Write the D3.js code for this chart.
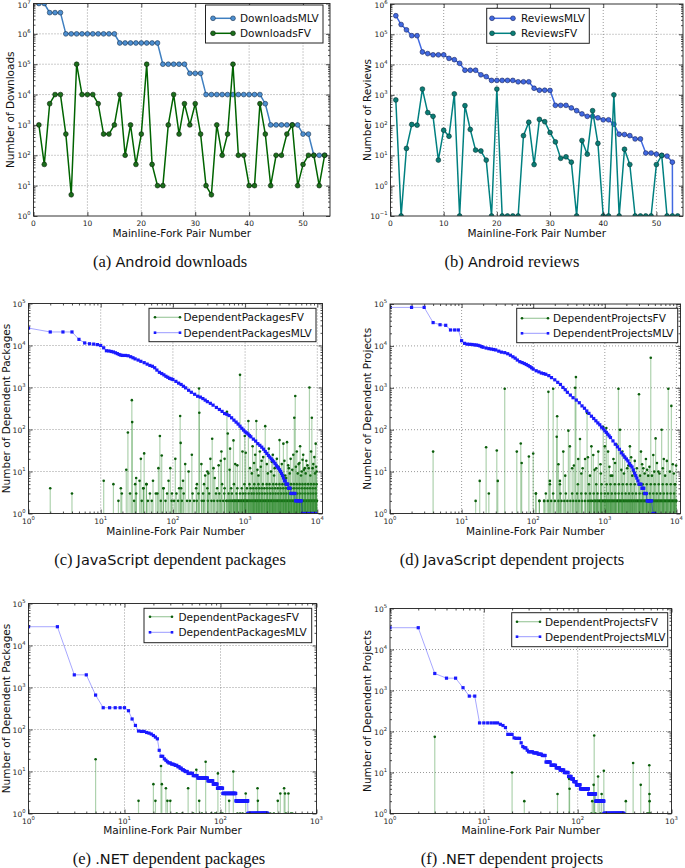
<!DOCTYPE html>
<html><head><meta charset="utf-8">
<script src="https://cdn.jsdelivr.net/npm/d3@7"></script>
<style>body{margin:0;background:#fff}svg{display:block}text{font-family:"DejaVu Sans",sans-serif}</style>
</head><body><script>
// ---------------- DATA ----------------
// (a) Android downloads, pairs 1..54
const downloadsMLV = [1e7,1e7,5e6,5e6,5e6,1e6,1e6,1e6,1e6,1e6,1e6,1e6,1e6,1e6,1e6,5e5,5e5,5e5,5e5,5e5,5e5,5e5,5e5,1e5,1e5,1e5,1e5,1e5,5e4,5e4,5e4,1e4,1e4,1e4,1e4,1e4,1e4,1e4,1e4,1e4,1e4,1e4,5e3,1e3,1e3,1e3,1e3,1e3,1e3,500,500,100,100,100];
const downloadsFV = [1e3,50,5e3,1e4,1e4,500,5,1e5,1e4,1e4,1e4,5e3,500,500,1e3,1e4,100,1e3,50,500,1e5,50,10,10,1e3,1e4,500,5e3,1e3,5e3,500,10,5,1e3,100,500,1e5,100,100,10,10,5e3,500,10,100,100,500,1e3,10,50,100,100,10,100];
// (b) Android reviews, pairs 1..54
const reviewsMLV = [4.1e5,2.1e5,1.4e5,9e4,9e4,2.6e4,2.3e4,2.1e4,2.1e4,2.1e4,1.6e4,1.45e4,1.1e4,6.5e3,6.5e3,6.5e3,4.6e3,4e3,3e3,3e3,3e3,3e3,3e3,2.7e3,2.7e3,2.7e3,1.65e3,1.42e3,1.42e3,1.4e3,450,450,450,370,300,235,195,195,175,150,150,108,50,49,45,35,35,12,12,11,10,9.5,6,0];
const reviewsFV = [680,0.1,17,105,100,1550,260,195,7,68,43,1080,0.1,440,72,15,14,7,0.1,1550,0.1,0.1,0.1,0.1,45,125,5,155,130,57,28,8,9,6,0.1,31,11,300,25,0.1,0.1,1000,0.1,16,5,0.1,0.1,0.1,0.1,5,10,0.1,0.1,0.1];
const linearTicks = [0,10,20,30,40,50];

// (c) JavaScript dependent packages
const jsPkgMlvRank = [1,2,3,4,5,6,7,8,9,10,11,12,13,14,15,16,17,18,19,20,22,24,26,28,30,33,36,40,44,48,52,56,60,65,70,75,80,85,90,95,100,110,120,130,140,150,165,180,200,220,240,260,280,300,330,360,400,440,480,520,560,600,650,700,750,800,850,900,950,1000,1050,1100,1150,1200,1300,1400,1500,1600,1700,1800,1900,2000,2100,2200,2300,2400,2500,2600,2700,2800,2900,3000,3100,3200,3300,3400,3500,3600,3700,3800,3900,4000,4100,4200,4300,4500,4700,4900,5000,5200,5400,5600,5800,6000,6200,6600,7000,7500,8000,8500,9000,9500];
const jsPkgMlvVal = [26000,21000,21000,21000,14000,11500,11000,10800,10500,10000,8800,7500,7400,7200,7000,6700,6400,6100,5900,5800,5800,5700,5400,5100,4800,4500,4200,3900,3600,3350,3200,2950,2600,2300,2150,2000,1850,1750,1650,1600,1550,1400,1270,1180,1070,980,860,770,690,620,590,545,500,460,420,380,335,300,270,240,230,215,190,167,150,135,120,107,97,88,83,78,72,67,59,53,46,42,38,34,30,27,24,22,20,18.5,17,15.5,14,12.8,12,11,10,9,8,7,6,6,5,5,5,4,4,4,3,3,3,3,2,2,2,2,2,2,1,1,1,1,1,1,1,1];
const jsPkgFvRank = [2,4,11,15,17.6,19,19.6,22.6,23.8,25.5,27,27.3,30,31,34.5,36,39,40,43,53,58,63,66,70,74,87,92,97,108,122,126,128,138,148,165,183,215,230,232,248,280,300,330,350,365,430,470,520,560,575,620,690,730,850,920,990,1110,1170,1270,1380,1430,1530,1600,1690,1900,2000,2130,2280,2420,2570,2750,3000,3220,3390,3600,3810,4030,4270,4800,4950,5200,5500,5780,6070,6380,6700,7050,7780,8200,8400,8600,9100,9500,9800];
const jsPkgFvVal = [4,3,6,5,2,4,3,11,85,3,500,150,5,7,6,20,4,27,5,6,3,12,70,24,4,6,12,3,20,4,210,48,6,15,10,25,5,950,250,15,8,10,20,60,12,14,30,20,265,80,35,55,15,2000,30,70,160,12,40,25,160,8,30,18,120,15,35,10,25,12,20,56,15,46,8,50,12,20,190,630,30,15,40,10,25,12,18,1000,30,190,12,22,46,10];
const jsPkgFvMidRank = [310,380,460,610,780,1020,1240,1330,1480,1650,1780,2060,2340,2520,2900,3100,3500,3700,3950,4150,4500,4650,5050,5350,5650,5950,6250,6550,6900,7300,7600,8000,8800,9300,9650];
const jsPkgFvMidVal = [9,7,18,11,14,28,9,16,11,13,22,9,17,8,13,10,18,7,14,9,11,25,13,9,16,8,19,11,9,14,12,8,15,9,13];
const jsPkgFvRank2 = [29,37,45,51,68,79,96,104,118,133,157,172,196,214,251,268,305,342,371,414,453,497,548,612,650,671,705,733,770,805,845,884,920,961,1000,1040,1085,1130,1190,1245,1300,1360,1420,1480,1540,1610,1680,1760,1840,1920,2000,2080,2170,2260,2360,2470,2580,2690,2810,2930,3060,3200,3340,3480,3630,3790,3960,4130,4310,4500,4700,4900,5110,5340,5570,5820,6070,6340,6620,6900,7200,7520,7850,8190,8550,8920,9300,9700];
const jsPkgFvRank2b = [560,590,630,690,720,755,790,825,865,900,940,980,1020,1060,1110,1160,1215,1270,1330,1390,1450,1510,1575,1645,1720,1800,1880,1960,2040,2120,2210,2310,2410,2520,2630,2750,2870,3000,3130,3270,3410,3560,3710,3870,4050,4220,4400,4600,4800,5000,5220,5450,5690,5950,6200,6480,6760,7050,7360,7690,8030,8380,8740,9120,9520,9900];
const jsPkgFvRank3 = [31,48,61,83,112,141,187,226,262,318,395,440,515,590,655,760,850,930,1010,1120,1230,1320,1450,1580,1720,1870,2040,2230,2420,2640,2880,3140,3420,3730,4060,4420,4820,5250,5720,6230,6790,7400,8060,8780,9560];
const jsPkgFvRank4 = [39,74,130,210,300,410,520,640,780,900,1060,1190,1300,1430,1560,1700,1850,2010,2190,2390,2600,2840,3090,3370,3670,4000,4360,4750,5180,5640,6150,6700,7300,7950,8660,9440];
const jsPkgFvRank5 = [43,270,480,700,980,1150,1340,1530,1760,1990,2180,2450,2710,2990,3290,3600,3950,4330,4740,5190,5690,6230,6820,7460,8160,8930,9750];

// (d) JavaScript dependent projects
const jsProjMlvRank = [1,2,3,4,5,6,7,8,9,10,11,12,13,14,15,16,17,18,19,20,22,24,26,28,30,33,36,40,44,48,52,56,60,65,70,75,80,85,90,95,100,110,120,130,140,150,165,180,200,220,240,260,280,300,330,360,400,440,480,520,560,600,650,700,750,800,850,900,950,1000,1050,1100,1150,1200,1300,1400,1500,1600,1700,1800,1900,2000,2100,2200,2300,2400,2500,2600,2700,2800,2900,3000,3100,3200,3300,3400,3500,3600,3700,3800,3900,4000,4100,4200,4300,4500,4700,4900,5000];
const jsProjMlvVal = [83000,83000,83000,36000,32000,31000,24000,24000,24000,13300,11500,11000,10900,10800,10600,10500,10300,10000,9600,9300,8900,8600,8400,8200,8000,7500,7100,6900,6500,6000,5500,5100,4600,4200,4000,3800,3600,3400,3200,3000,2800,2550,2400,2250,2180,2100,1950,1750,1550,1350,1200,1020,900,780,670,580,510,440,370,325,280,245,210,185,163,145,131,115,105,94,86,78,71,65,54,45,39,34,28,25,22,20,18,15.5,14,12.9,11,9.2,8,7,6,5,5,5,4,4,4,3,3,3,2,2,2,2,2,2,1,1,1];
const jsProjFvRank = [4,15.7,17.9,22,24,31,32,40,59,67,69,87,100,109,122,142,163,171,190,213,216,225,236,263,310,325,350,385,395,425,450,490,530,565,620,650,690,760,810,870,950,1000,1050,1110,1210,1320,1450,1550,1630,1760,1900,2050,2240,2420,2620,3000,3200,3450,3750,4040,4380,4750,5120,5600,6220,6660,7700,8500,8900,9600];
const jsProjFvVal = [30,2,6,38,3,32,6,950,30,47,16,23,27,3,2,2,800,6,950,68,210,15,6,30,95,40,12,1000,1800,20,60,12,20,250,8,40,25,12,30,15,118,40,110,30,8,20,45,950,100,30,23,12,40,8,18,700,30,12,20,8,5200,25,62,10,100,20,950,370,15,5];
const jsProjFvMidRank = [280,370,470,580,720,880,1160,1270,1390,1700,1850,2130,2330,2520,2800,3100,3320,3600,3900,4200,4550,4900,5350,5800,6450,6950,7350,8100,9200,9900];
const jsProjFvMidVal = [8,14,9,22,11,9,13,8,16,11,9,14,22,10,12,8,15,9,11,13,8,10,16,9,12,8,18,10,9,14];
const jsProjFvRank2 = [122,142,160,178,200,225,248,272,300,330,362,398,437,480,527,580,637,700,735,770,810,845,885,930,975,1020,1070,1120,1175,1230,1290,1350,1420,1490,1560,1630,1710,1800,1880,1970,2070,2170,2270,2380,2500,2620,2750,2880,3020,3160,3310,3470,3640,3820,4000,4190,4400,4610,4830,5060,5300,5560,5830,6110,6400,6720,7040,7380,7740,8110,8500,8910,9340,9790];
const jsProjFvRank2b = [610,660,720,790,860,905,950,1000,1045,1095,1150,1205,1260,1320,1385,1455,1525,1595,1670,1755,1840,1925,2020,2120,2220,2330,2440,2560,2690,2820,2950,3090,3240,3390,3550,3730,3910,4100,4300,4510,4720,4950,5180,5430,5690,5970,6260,6560,6880,7210,7560,7920,8300,8700,9120,9560,9990];
const jsProjFvRank3 = [109,150,190,240,285,350,410,470,540,620,700,790,890,1000,1110,1250,1400,1560,1740,1950,2180,2440,2730,3050,3410,3810,4260,4760,5320,5950,6650,7430,8300,9280];
const jsProjFvRank5 = [171,236,420,600,760,900,1060,1200,1380,1570,1780,2030,2300,2620,2980,3390,3850,4380,4980,5660,6440,7320,8320,9460];

// (e) .NET dependent packages (MLV as value runs over consecutive ranks)
const netPkgMlvVals = [28000,2000,660,330,280,178,125,92,90,85,82,78,72,66,60,32,23,20,18.5,17,16,15,14.5,14,13,12,11,10.5,10,9,8,7,6,5,4,3,2,1];
const netPkgMlvCounts = [2,2,1,5,1,1,1,1,2,1,1,1,1,1,1,1,2,1,1,1,2,2,1,2,2,2,2,1,3,6,6,16,10,9,13,39,48,118];
const netPkgFvRank = [5,14,20,21,24,24.5,27,28,30,46,56,60,70,94,113,123,136,183,243,245,395,420,460,470,510];
const netPkgFvVal = [19.5,2,5,2,13.5,5,4,2,2,4,11,2,17,9,3,2,10,3,4,2,2,3,4,3,3];
const netPkgFvOnes = [35,40,52,64,80,88,100,105,150,160,170,200,220,260,280,300,330,360,480,540,560];
// (f) .NET dependent projects
const netProjMlvVals = [34000,2600,2000,1170,730,162,150,140,125,85,70,68,53,43,40,35,32,30,28,26,18,15,13,11.5,10,8,7,6,5,4,3,2,1];
const netProjMlvCounts = [2,1,2,1,2,6,1,1,1,3,1,3,1,1,2,1,4,4,4,4,6,7,6,7,8,6,5,6,10,24,25,35,120];
const netProjFvRank = [3,20,27,61,81,82,143,148,150,152,165,172,180,190,326,390,470,580,582,584];
const netProjFvVal = [74,10,2,3,7,4,2,5,80,3,8,2,3,11,2,17,5,15,3,2];
const netProjFvOnes = [140,155,175,195,210,230,250,270,290,310,550,570,590];

// ---------------- DRAWING ----------------
const svg = d3.select('body').append('svg').attr('width',685).attr('height',868);
const defs = svg.append('defs');
const TF = 7.5;

function decades([a,b]){const o=[];for(let e=Math.ceil(Math.log10(a)-1e-9);e<=Math.floor(Math.log10(b)+1e-9);e++)o.push(Math.pow(10,e));return o;}
function minors([a,b]){const o=[];for(let e=Math.floor(Math.log10(a));e<=Math.ceil(Math.log10(b));e++)for(let k=2;k<=9;k++){const v=k*Math.pow(10,e);if(v>a&&v<b)o.push(v);}return o;}
function expand(vals,counts){const o=[];let r=1;vals.forEach((v,i)=>{for(let c=0;c<counts[i];c++){o.push([r,v]);r++;}});return o;}
function sup(t,exp,fs){t.append('tspan').text('10');t.append('tspan').attr('font-size',fs*0.7).attr('dy',-fs*0.48).text(exp<0?'\u2212'+(-exp):String(exp));}

function panel(o){
  const x=(o.xlog?d3.scaleLog():d3.scaleLinear()).domain(o.xd).range([o.l,o.r]);
  const y=d3.scaleLog().domain(o.yd).range([o.b,o.t]);
  const g=svg.append('g');
  const cid='clip'+o.id;
  defs.append('clipPath').attr('id',cid).append('rect').attr('x',o.l).attr('y',o.t).attr('width',o.r-o.l).attr('height',o.b-o.t);
  const xMaj=o.xlog?decades(o.xd):o.xticks, yMaj=decades(o.yd);
  const grid=g.append('g').attr('stroke','#555').attr('stroke-width',0.6).attr('stroke-dasharray','1,2');
  xMaj.filter(v=>x(v)>o.l+1&&x(v)<o.r-1).forEach(v=>grid.append('line').attr('x1',x(v)).attr('x2',x(v)).attr('y1',o.t).attr('y2',o.b));
  yMaj.filter(v=>y(v)>o.t+1&&y(v)<o.b-1).forEach(v=>grid.append('line').attr('y1',y(v)).attr('y2',y(v)).attr('x1',o.l).attr('x2',o.r));
  const plot=g.append('g').attr('clip-path',`url(#${cid})`);
  return {x,y,g,plot,o,xMaj,yMaj};
}
function finish(p){
  const {x,y,g,o,xMaj,yMaj}=p;
  g.append('rect').attr('x',o.l).attr('y',o.t).attr('width',o.r-o.l).attr('height',o.b-o.t).attr('fill','none').attr('stroke','#333').attr('stroke-width',1);
  const xMin=o.xlog?minors(o.xd):[], yMin=minors(o.yd);
  const mk=(fn,sc,vals,size,tr)=>{const gg=g.append('g').attr('transform',tr).call(fn(sc).tickValues(vals).tickSize(size).tickSizeOuter(0).tickFormat(''));gg.select('.domain').remove();gg.selectAll('line').attr('stroke','#222').attr('stroke-width',0.8);};
  mk(d3.axisBottom,x,xMaj,-4,`translate(0,${o.b})`);mk(d3.axisTop,x,xMaj,-4,`translate(0,${o.t})`);
  mk(d3.axisLeft,y,yMaj,-4,`translate(${o.l},0)`);mk(d3.axisRight,y,yMaj,-4,`translate(${o.r},0)`);
  if(xMin.length){mk(d3.axisBottom,x,xMin,-2,`translate(0,${o.b})`);mk(d3.axisTop,x,xMin,-2,`translate(0,${o.t})`);}
  mk(d3.axisLeft,y,yMin,-2,`translate(${o.l},0)`);mk(d3.axisRight,y,yMin,-2,`translate(${o.r},0)`);
  xMaj.forEach(v=>{const t=g.append('text').attr('x',x(v)).attr('y',o.b+10).attr('text-anchor','middle').attr('font-size',TF).attr('fill','#222');
    if(o.xlog) sup(t,Math.round(Math.log10(v)),TF); else t.text(v);});
  yMaj.forEach(v=>{const t=g.append('text').attr('x',o.l-3).attr('y',Math.max(y(v)+3,8)).attr('text-anchor','end').attr('font-size',TF).attr('fill','#222');
    sup(t,Math.round(Math.log10(v)),TF);});
  g.append('text').attr('x',(o.l+o.r)/2).attr('y',o.xlabelY).attr('text-anchor','middle').attr('font-size',10.5).attr('fill','#111').text('Mainline-Fork Pair Number');
  g.append('text').attr('transform',`translate(${o.ylabelX},${(o.t+o.b)/2}) rotate(-90)`).attr('text-anchor','middle').attr('dominant-baseline','central').attr('font-size',10.5).attr('fill','#111').text(o.ylabel);
}
function legend(p,L){
  const g=p.g.append('g');
  g.append('rect').attr('x',L.x0).attr('y',L.y0).attr('width',L.x1-L.x0).attr('height',L.y1-L.y0).attr('fill','#fff').attr('stroke','#222').attr('stroke-width',1);
  L.items.forEach(it=>{
    g.append('line').attr('x1',L.lx0).attr('x2',L.lx1).attr('y1',it.y).attr('y2',it.y).attr('stroke',it.stroke).attr('stroke-width',it.sw).attr('stroke-opacity',it.so||1);
    [L.lx0,L.lx1].forEach(xx=>drawMarker(g,xx,it.y,it.m));
    g.append('text').attr('x',L.tx).attr('y',it.y).attr('dominant-baseline','central').attr('font-size',10.5).attr('fill','#111').text(it.label);
  });
}
function drawMarker(g,cx,cy,m){
  if(m.type==='circle') g.append('circle').attr('cx',cx).attr('cy',cy).attr('r',m.r).attr('fill',m.fill).attr('stroke',m.stroke||'none').attr('stroke-width',m.sw||0);
  else g.append('rect').attr('x',cx-m.s/2).attr('y',cy-m.s/2).attr('width',m.s).attr('height',m.s).attr('fill',m.fill);
}
function lineSeries(p,pts,stroke,sw,so,m){
  const {x,y,plot}=p;
  const yy=v=>v>0?y(v):p.o.b+2000;
  plot.append('path').datum(pts).attr('d',d3.line().x(d=>x(d[0])).y(d=>yy(d[1]))).attr('fill','none').attr('stroke',stroke).attr('stroke-width',sw).attr('stroke-opacity',so);
  if(m) pts.filter(d=>d[1]>0).forEach(d=>drawMarker(plot,x(d[0]),y(d[1]),m));
}
function stems(p,pts,m){
  const {x,y,plot,o}=p;
  pts.forEach(d=>plot.append('line').attr('x1',x(d[0])).attr('x2',x(d[0])).attr('y1',y(d[1])).attr('y2',o.b).attr('stroke','#2a8a2a').attr('stroke-opacity',0.38).attr('stroke-width',1.2));
  pts.forEach(d=>drawMarker(plot,x(d[0]),y(d[1]),m));
}
const zip=(a,b)=>a.map((v,i)=>[v,b[i]]);
const idx=arr=>arr.map((v,i)=>[i+1,v]);

// ---- (a)
const mA={type:'circle',r:2.4,fill:'#4d8fd1',stroke:'#16304d',sw:0.6};
const mA2={type:'circle',r:2.4,fill:'#1c6e1c',stroke:'#082008',sw:0.6};
let p=panel({id:'a',l:33.5,r:330,t:3.5,b:216,xd:[0,55],yd:[1,1e7],xticks:linearTicks,ylabel:'Number of Downloads',ylabelX:10,xlabelY:237});
lineSeries(p,idx(downloadsMLV),'#3f7fc0',1.5,1,mA);
lineSeries(p,idx(downloadsFV),'#006400',1.5,1,mA2);
finish(p);
legend(p,{x0:205.5,x1:323,y0:5,y1:43,lx0:213,lx1:233,tx:240,items:[
  {y:18.3,label:'DownloadsMLV',stroke:'#3f7fc0',sw:1.5,m:mA},{y:33.3,label:'DownloadsFV',stroke:'#006400',sw:1.5,m:mA2}]});

// ---- (b)
const mB={type:'circle',r:2.4,fill:'#4169e1',stroke:'#15225a',sw:0.6};
const mB2={type:'circle',r:2.4,fill:'#0b7d75',stroke:'#033',sw:0.6};
p=panel({id:'b',l:390.5,r:683,t:4,b:216,xd:[0,55],yd:[0.1,1e6],xticks:linearTicks,ylabel:'Number of Reviews',ylabelX:367,xlabelY:237});
lineSeries(p,idx(reviewsMLV),'#4169e1',1.5,1,mB);
lineSeries(p,idx(reviewsFV),'#008080',1.5,1,mB2);
finish(p);
legend(p,{x0:486.7,x1:589.3,y0:8.3,y1:43.3,lx0:492,lx1:513,tx:521,items:[
  {y:18.3,label:'ReviewsMLV',stroke:'#4169e1',sw:1.5,m:mB},{y:33.3,label:'ReviewsFV',stroke:'#008080',sw:1.5,m:mB2}]});

// common styles for dense panels
const mFV={type:'circle',r:1.3,fill:'#0b5d0b'};
const mMLV={type:'rect',s:3.2,fill:'#1a1aff'};
function dense(o,mlvPts,fvLists,legendBox,fvLabel,mlvLabel){
  const q=panel(o);
  fvLists.forEach(l=>stems(q,l,mFV));
  lineSeries(q,mlvPts,'#0000ff',1,0.35,mMLV);
  finish(q);
  legend(q,Object.assign(legendBox,{items:[
    {y:legendBox.r1,label:fvLabel,stroke:'#2e8b2e',sw:1.2,so:0.45,m:mFV},
    {y:legendBox.r2,label:mlvLabel,stroke:'#0000ff',sw:1,so:0.4,m:{type:'rect',s:2.6,fill:'#1a1aff'}}]}));
}
const ones=(arr,v)=>arr.map(r=>[r,v]);
// ---- (c)
dense({id:'c',l:28.5,r:322.5,t:303.5,b:513.5,xlog:true,xd:[1,11800],yd:[1,1e5],ylabel:'Number of Dependent Packages',ylabelX:5.5,xlabelY:535},
  zip(jsPkgMlvRank,jsPkgMlvVal),
  [ones(jsPkgFvRank2,2),ones(jsPkgFvRank2b,2),ones(jsPkgFvRank3,3),ones(jsPkgFvRank4,4),ones(jsPkgFvRank5,5),zip(jsPkgFvMidRank,jsPkgFvMidVal),zip(jsPkgFvRank,jsPkgFvVal)],
  {x0:149,x1:316,y0:308.3,y1:341.7,lx0:155,lx1:180,tx:183.5,r1:317.3,r2:332.7},'DependentPackagesFV','DependentPackagesMLV');
// ---- (d)
dense({id:'d',l:390,r:680.5,t:304,b:513.5,xlog:true,xd:[1,11400],yd:[1,1e5],ylabel:'Number of Dependent Projects',ylabelX:367,xlabelY:535},
  zip(jsProjMlvRank,jsProjMlvVal),
  [ones(jsProjFvRank2,2),ones(jsProjFvRank2b,2),ones(jsProjFvRank3,3),ones(jsProjFvRank5,5),zip(jsProjFvMidRank,jsProjFvMidVal),zip(jsProjFvRank,jsProjFvVal)],
  {x0:516.7,x1:677.7,y0:308.3,y1:342.7,lx0:522,lx1:548,tx:553,r1:318.3,r2:333.3},'DependentProjectsFV','DependentProjectsMLV');
// ---- (e)
dense({id:'e',l:28.5,r:316.5,t:603.5,b:813.5,xlog:true,xd:[1,1000],yd:[1,1e5],ylabel:'Number of Dependent Packages',ylabelX:5.5,xlabelY:834},
  expand(netPkgMlvVals,netPkgMlvCounts),
  [ones(netPkgFvOnes,1),zip(netPkgFvRank,netPkgFvVal)],
  {x0:144,x1:311.7,y0:608.3,y1:642.7,lx0:150,lx1:172,tx:178.5,r1:616.7,r2:632.3},'DependentPackagesFV','DependentPackagesMLV');
// ---- (f)
dense({id:'f',l:390,r:671.5,t:608.5,b:813.5,xlog:true,xd:[1,1000],yd:[1,1e5],ylabel:'Number of Dependent Projects',ylabelX:367,xlabelY:834},
  expand(netProjMlvVals,netProjMlvCounts),
  [ones(netProjFvOnes,1),zip(netProjFvRank,netProjFvVal)],
  {x0:511.7,x1:667.7,y0:612.7,y1:646.7,lx0:517,lx1:540,tx:545,r1:621.7,r2:636.7},'DependentProjectsFV','DependentProjectsMLV');

// ---- captions
const captions=[
  {x:170,y:267,parts:[['(a) ','s'],['Android','n'],[' downloads','s']]},
  {x:512,y:267,parts:[['(b) ','s'],['Android','n'],[' reviews','s']]},
  {x:170,y:565,parts:[['(c) ','s'],['JavaScript','n'],[' dependent packages','s']]},
  {x:512,y:565,parts:[['(d) ','s'],['JavaScript','n'],[' dependent projects','s']]},
  {x:169,y:864,parts:[['(e) ','s'],['.NET','n'],[' dependent packages','s']]},
  {x:512,y:864,parts:[['(f) ','s'],['.NET','n'],[' dependent projects','s']]}];
captions.forEach(c=>{
  const t=svg.append('text').attr('x',c.x).attr('y',c.y).attr('text-anchor','middle').attr('font-size',16.5).attr('fill','#111');
  c.parts.forEach(([s,f])=>t.append('tspan').attr('font-family',f==='s'?'"Liberation Serif",serif':'"DejaVu Sans",sans-serif').attr('font-size',f==='s'?16.5:14.5).text(s));
});
</script></body></html>
